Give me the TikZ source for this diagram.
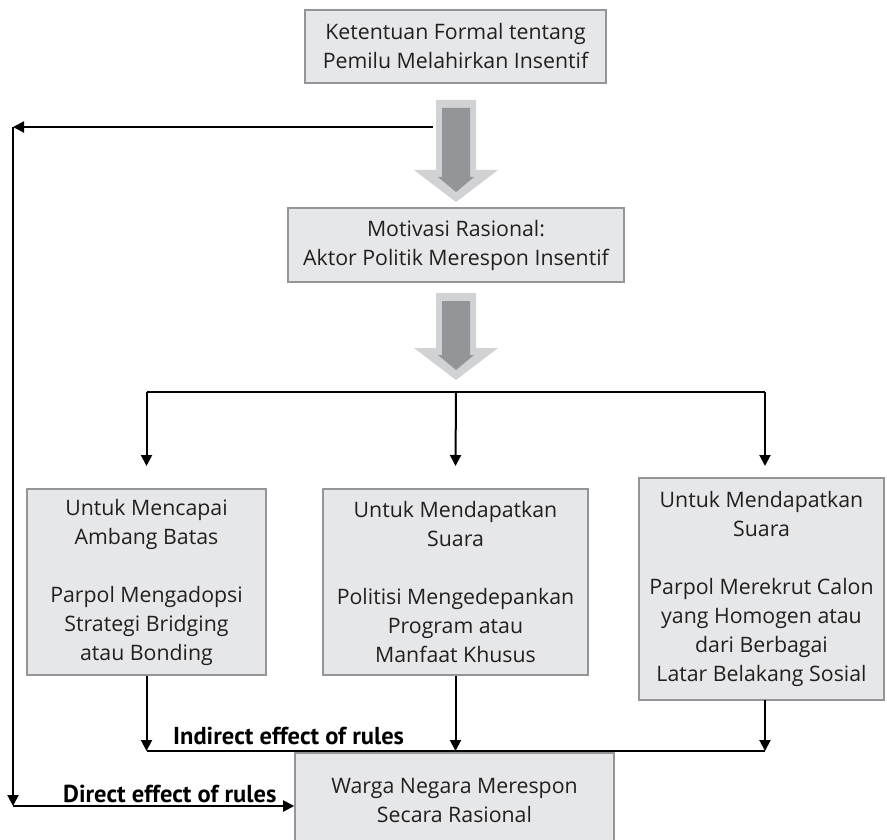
\documentclass[tikz,border=0pt]{standalone}
\usepackage{fontspec}
\setmainfont{Open Sans}
\newfontfamily\tagfont{PT Sans}
\usepackage{xcolor}
\usepackage{tikz}
\usetikzlibrary{positioning,arrows.meta,calc}
\definecolor{ink}{HTML}{231F20}
\definecolor{boxfill}{HTML}{E6E7E8}
\definecolor{boxrule}{HTML}{939598}
\definecolor{arrlight}{HTML}{D1D2D4}
\definecolor{arrdark}{HTML}{939598}
% shaded block arrow: centre x, top, head start, tip
\newcommand{\blockarrow}[4]{%
  \fill[arrlight] (#1-20,#2) -- (#1+20,#2) -- (#1+20,#3) -- (#1+42,#3)
    -- (#1,#4) -- (#1-42,#3) -- (#1-20,#3) -- cycle;
  \fill[arrdark] (#1-14,#2-8) -- (#1+14,#2-8) -- (#1+14,#3-7) -- (#1+18,#3-7)
    -- (#1,#4+10) -- (#1-18,#3-7) -- (#1-14,#3-7) -- cycle;}
\tikzset{
  font=\fontsize{21.3}{29}\selectfont,
  box/.style  = {draw=boxrule, fill=boxfill, line width=1.6pt, align=center,
                 inner sep=0pt, text=ink},
  flow/.style = {-{Triangle[width=11pt,length=11pt]}, draw=black, line width=2pt},
  line/.style = {draw=black, line width=2pt},
  tag/.style  = {font=\tagfont\fontsize{24.5}{28}\selectfont\bfseries, text=black,
                 inner sep=0pt},
}
\begin{document}
\begin{tikzpicture}[x=1pt, y=1pt]
\clip (0,0) rectangle (887,-840);

% ---------------- top of the chain ------------------------------------
\node[box, minimum width=301, minimum height=73] at (455.5,-46.5) (k0)
  {Ketentuan Formal tentang\\Pemilu Melahirkan Insentif};
\node[box, minimum width=336, minimum height=74] at (456,-245) (m0)
  {Motivasi Rasional:\\Aktor Politik Merespon Insentif};

\blockarrow{456}{-100}{-170}{-202}
\blockarrow{456}{-293}{-348}{-380}

% ---------------- three strategies -------------------------------------
\node[box, minimum width=239, minimum height=186] at (146.5,-582) (u1)
  {Untuk Mencapai\\Ambang Batas\\[29pt]Parpol Mengadopsi\\Strategi Bridging\\atau Bonding};
\node[box, minimum width=265, minimum height=186] at (455.5,-582) (u2)
  {Untuk Mendapatkan\\Suara\\[29pt]Politisi Mengedepankan\\Program atau\\Manfaat Khusus};
\node[box, minimum width=245, minimum height=222] at (761.5,-589) (u3)
  {Untuk Mendapatkan\\Suara\\[29pt]Parpol Merekrut Calon\\yang Homogen atau\\dari Berbagai\\Latar Belakang Sosial};

\coordinate (split) at (456,-392);
\coordinate (tips) at (0,-466);
\draw[line] (u1.north |- split) -- (765,-392);
\draw[flow] (u1.north |- split) -- (u1.north |- tips);
\draw[flow] (split) -- (u2.north |- tips);
\draw[flow] (765,-392) -- (765,-466);

% ---------------- citizens ---------------------------------------------
\node[box, minimum width=319, minimum height=96, anchor=north] at (454.5,-752) (w0)
  {Warga Negara Merespon\\Secara Rasional};

\coordinate (ind) at (0,-751);
\draw[flow] (u1.south) -- (u1.south |- ind);
\draw[flow] (u2.south) -- (u2.south |- ind);
\draw[flow] (765,-700) -- (765,-751);
\draw[line] (u1.south |- ind) -- (765,-751);
\node[tag, anchor=base west] at (173,-744) (lind) {Indirect effect of rules};

% the rules also reach the voters directly
\coordinate (fb0) at (433,-127);
\coordinate (fb1) at (13,-127);
\coordinate (fb2) at (13,-806);
\draw[flow] (fb0) -- (fb1);
\draw[flow] (fb1) -- (fb2);
\draw[flow] (fb2) -- (fb2 -| w0.west);
\node[tag, anchor=base west] at (63,-802) (ldir) {Direct effect of rules};

\end{tikzpicture}
\end{document}
